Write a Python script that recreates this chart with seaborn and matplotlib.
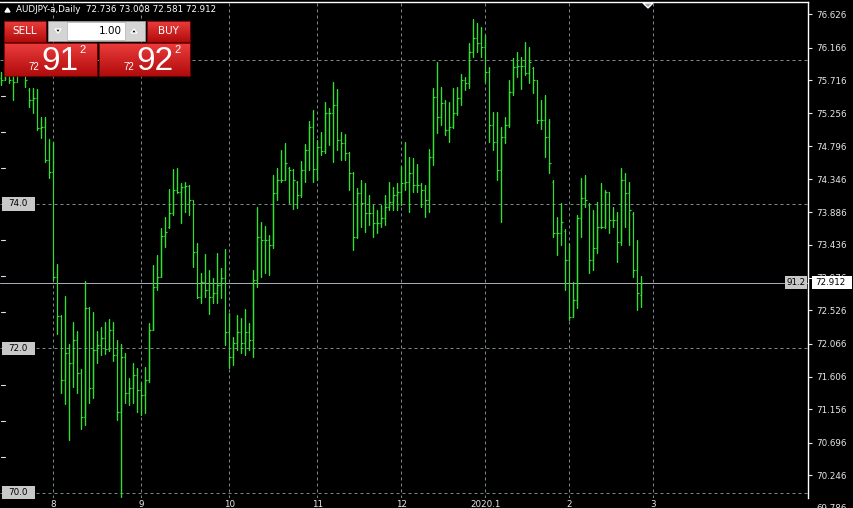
import numpy as np
import pandas as pd
import matplotlib
matplotlib.use("Agg")
import matplotlib.pyplot as plt
import seaborn as sns
from matplotlib.patches import Rectangle, Polygon
from matplotlib.colors import to_rgb

# ---------------- data ----------------
title_text = "AUDJPY-a,Daily  72.736 73.008 72.581 72.912"

opens = [75.75, 75.72, 75.85, 75.72, 75.69, 75.88, 75.92, 75.58, 75.44, 75.47,
         75.05, 75.07, 74.61, 74.44, 72.99, 72.45, 71.56, 71.94, 71.80, 72.12,
         71.66, 71.05, 72.56, 71.45, 71.98, 72.05, 72.15, 71.99, 72.26, 71.91,
         71.12, 71.88, 71.38, 71.45, 71.63, 71.43, 71.36, 71.56, 72.26, 72.85,
         72.99, 73.56, 73.68, 73.88, 74.19, 74.17, 74.24, 74.25, 74.06, 73.34,
         72.71, 72.92, 72.81, 72.71, 72.77, 72.88, 72.98, 72.23, 71.88, 72.08,
         72.23, 72.08, 72.23, 72.12, 72.95, 73.54, 73.50, 73.50, 73.43, 74.15,
         74.33, 74.33, 74.50, 74.47, 74.30, 74.12, 74.47, 74.75, 75.07, 74.48,
         74.79, 74.73, 75.26, 75.26, 75.37, 74.89, 74.84, 74.71, 74.43, 73.54,
         74.15, 74.01, 73.88, 73.88, 73.74, 73.74, 73.81, 73.96, 74.03, 74.12,
         74.17, 74.29, 74.30, 74.43, 74.26, 74.26, 74.19, 74.06, 74.65, 75.48,
         75.20, 75.40, 75.02, 75.07, 75.26, 75.47, 75.72, 75.67, 76.10, 76.30,
         76.23, 76.17, 75.83, 75.09, 74.86, 74.47, 74.93, 75.09, 75.55, 75.90,
         75.91, 75.91, 75.81, 75.88, 75.72, 75.16, 75.16, 74.93, 74.30, 73.60,
         73.60, 73.62, 73.22, 72.44, 72.67, 73.81, 74.08, 73.98, 73.22, 73.39,
         73.68, 73.68, 74.17, 73.78, 73.78, 73.47, 74.33, 74.15, 73.86, 73.09,
         72.736]

highs = [75.83, 75.99, 75.92, 75.85, 75.99, 76.06, 75.92, 75.61, 75.61, 75.59,
         75.20, 75.20, 74.90, 74.86, 73.17, 72.46, 72.73, 72.06, 72.37, 72.24,
         71.72, 72.93, 72.57, 72.51, 72.24, 72.30, 72.37, 72.41, 72.37, 72.12,
         72.06, 71.94, 71.59, 71.80, 71.73, 71.54, 71.74, 72.35, 73.16, 73.29,
         73.67, 73.82, 74.21, 74.48, 74.50, 74.29, 74.30, 74.26, 74.06, 73.46,
         73.05, 73.31, 73.09, 72.98, 73.32, 73.11, 73.38, 72.49, 72.16, 72.46,
         72.42, 72.55, 72.35, 73.09, 73.96, 73.75, 73.70, 73.57, 74.40, 74.50,
         74.75, 74.84, 74.51, 74.48, 74.32, 74.60, 74.83, 75.15, 75.30, 74.89,
         75.00, 75.41, 75.33, 75.69, 75.59, 75.00, 74.97, 74.72, 74.44, 74.22,
         74.33, 74.29, 74.12, 73.99, 73.92, 73.99, 74.12, 74.30, 74.24, 74.29,
         74.53, 74.86, 74.65, 74.64, 74.55, 74.29, 74.26, 74.76, 75.61, 75.97,
         75.62, 75.44, 75.41, 75.61, 75.62, 75.80, 75.76, 76.23, 76.56, 76.51,
         76.45, 76.34, 75.90, 75.27, 75.27, 75.07, 75.20, 75.72, 76.02, 76.10,
         76.03, 76.24, 76.17, 75.90, 75.72, 75.44, 75.51, 75.18, 74.33, 73.82,
         74.01, 73.65, 73.46, 72.92, 73.85, 74.36, 74.40, 74.01, 73.92, 74.03,
         74.29, 74.19, 74.01, 73.96, 73.89, 74.50, 74.43, 74.30, 73.89, 73.50,
         73.008]

lows = [75.65, 75.72, 75.67, 75.44, 75.79, 75.80, 75.62, 75.34, 75.26, 75.02,
        74.91, 74.58, 74.36, 72.95, 72.20, 71.38, 71.23, 70.73, 71.47, 71.38,
        70.89, 70.94, 71.25, 71.31, 71.80, 71.91, 71.92, 71.97, 71.83, 71.01,
        69.94, 71.25, 71.22, 71.25, 71.12, 71.08, 71.11, 71.54, 72.26, 72.81,
        72.99, 73.40, 73.67, 73.85, 74.15, 73.74, 73.89, 73.85, 73.13, 72.70,
        72.63, 72.71, 72.48, 72.63, 72.63, 72.70, 72.05, 71.73, 71.77, 71.98,
        71.94, 71.91, 71.98, 71.88, 72.85, 72.99, 73.05, 73.02, 73.39, 74.06,
        74.30, 74.33, 74.01, 73.93, 73.94, 74.10, 74.30, 74.47, 74.30, 74.33,
        74.68, 74.71, 74.82, 74.58, 74.75, 74.61, 74.61, 74.19, 73.36, 73.53,
        73.68, 73.61, 73.71, 73.54, 73.60, 73.68, 73.71, 73.92, 73.92, 73.92,
        73.99, 74.19, 73.89, 74.17, 74.17, 73.96, 73.82, 73.89, 74.54, 74.98,
        75.09, 74.96, 74.86, 75.05, 75.23, 75.37, 75.58, 75.61, 76.03, 76.10,
        76.03, 75.69, 74.86, 74.75, 74.33, 73.75, 74.84, 75.07, 75.51, 75.76,
        75.59, 75.79, 75.67, 75.54, 75.12, 75.04, 74.65, 74.43, 73.54, 73.29,
        73.43, 72.81, 72.39, 72.44, 72.56, 73.54, 73.96, 73.05, 73.09, 73.32,
        73.67, 73.67, 73.60, 73.68, 73.20, 73.43, 73.68, 73.43, 72.99, 72.53,
        72.581]

closes = [75.72, 75.85, 75.72, 75.69, 75.88, 75.92, 75.72, 75.44, 75.47, 75.05,
          75.07, 74.61, 74.44, 72.99, 72.45, 71.56, 71.94, 71.80, 72.12, 71.66,
          71.05, 72.56, 71.45, 71.98, 72.05, 72.15, 71.99, 72.26, 71.91, 71.12,
          71.88, 71.38, 71.45, 71.63, 71.43, 71.36, 71.56, 72.26, 72.85, 72.99,
          73.56, 73.61, 73.88, 74.19, 74.17, 74.24, 74.25, 74.06, 73.34, 72.71,
          72.92, 72.81, 72.71, 72.77, 72.88, 72.98, 72.23, 71.88, 72.08, 72.23,
          72.08, 72.23, 72.12, 72.95, 73.54, 73.50, 73.50, 73.43, 74.15, 74.33,
          74.33, 74.57, 74.47, 74.33, 74.12, 74.47, 74.75, 75.07, 74.48, 74.79,
          74.73, 75.26, 75.26, 75.37, 74.89, 74.84, 74.71, 74.43, 73.54, 74.15,
          74.01, 73.88, 73.88, 73.74, 73.74, 73.81, 73.96, 74.03, 74.12, 74.17,
          74.29, 74.30, 74.43, 74.26, 74.26, 74.19, 74.06, 74.65, 75.48, 75.20,
          75.40, 75.02, 75.07, 75.26, 75.47, 75.72, 75.67, 76.10, 76.30, 76.23,
          76.17, 75.83, 75.09, 74.86, 74.47, 74.93, 75.09, 75.55, 75.90, 75.91,
          75.91, 75.81, 75.97, 75.72, 75.16, 75.16, 74.93, 74.57, 73.60, 73.60,
          73.75, 73.22, 72.44, 72.67, 73.81, 74.08, 74.06, 73.22, 73.39, 73.68,
          73.68, 74.17, 73.78, 73.78, 73.47, 74.33, 74.15, 73.92, 73.09, 72.77,
          72.912]

month_pos = [13, 35, 57, 79, 100, 121, 142, 163]
month_labels = ["8", "9", "10", "11", "12", "2020.1", "2", "3"]

price_ticks = [76.626, 76.166, 75.716, 75.256, 74.796, 74.346, 73.886, 73.436,
               72.976, 72.526, 72.066, 71.606, 71.156, 70.696, 70.246]
bottom_price_tick = 69.786
grid_levels = [70.0, 72.0, 74.0, 76.0]
level_labels = [74.0, 72.0, 70.0]
left_marks = [70.5, 71.0, 71.5, 72.5, 73.0, 73.5, 74.5, 75.0, 75.5]
last_price = 72.912
last_price_text = "72.912"
spread_text = "91.2"
lot_text = "1.00"
sell_quote = ("72", "91", "2")
buy_quote = ("72", "92", "2")

# ---------------- style ----------------
sns.set_theme(style="dark")
plt.rcParams["font.family"] = ["DejaVu Sans"]

W, H = 854, 508
PLOT_R = 808
fig = plt.figure(figsize=(W / 100, H / 100), dpi=100, facecolor="black")
ax = fig.add_axes([0, 10 / H, PLOT_R / W, 496 / H])
ax.set_facecolor("black")

# OHLC bars as one path per bar: open tick, range, close tick
tick = 0.3
rows = []
for i, (o, h, l, c) in enumerate(zip(opens, highs, lows, closes)):
    pts = [(i - tick, o), (i, o), (i, h), (i, l), (i, c), (i + tick, c)]
    for j, (x, y) in enumerate(pts):
        rows.append({"bar": i, "step": j, "x": x, "y": y})
df = pd.DataFrame(rows)

sns.lineplot(data=df, x="x", y="y", units="bar", estimator=None, sort=False,
             color="#30e030", linewidth=0.85, ax=ax, legend=False,
             solid_capstyle="butt", solid_joinstyle="miter", zorder=3)

grid_color = "#7c848c"
for g in grid_levels:
    ax.axhline(g, color=grid_color, lw=0.72, ls=(0, (3, 3)), zorder=1)
for p in month_pos:
    ax.axvline(p, color=grid_color, lw=0.72, ls=(0, (3, 3)), zorder=1)

ax.axhline(last_price, color="#a2aab4", lw=0.72, zorder=2)

# axes
ax.set_xticks(month_pos)
ax.set_xticklabels(month_labels)
ax.yaxis.tick_right()
ax.set_yticks(price_ticks)
ax.set_yticklabels([f"{v:.3f}" for v in price_ticks])
ax.set_xlim(-0.375, -0.375 + PLOT_R / 4)
ax.set_ylim(74 - (498 - 204) / 72.25, 74 + (204 - 2) / 72.25)
ax.set_xlabel("")
ax.set_ylabel("")
ax.tick_params(axis="y", colors="#e8e8e8", length=3, width=0.8, pad=3,
               labelsize=6.3, right=True, left=False, labelright=True, labelleft=False)
ax.tick_params(axis="x", colors="#e8e8e8", length=0, pad=1.2, labelsize=6.3)
for s in ["left", "bottom"]:
    ax.spines[s].set_visible(False)
for s in ["top", "right"]:
    ax.spines[s].set_visible(True)
    ax.spines[s].set_color("white")
    ax.spines[s].set_linewidth(1.0)

ytr = ax.get_yaxis_transform()
ppx = 1 / PLOT_R          # axes fraction per pixel
pdy = 1 / 72.25           # price per pixel

ax.text(816 * ppx, bottom_price_tick, f"{bottom_price_tick:.3f}", transform=ytr,
        ha="left", va="center", fontsize=6.3, color="#e8e8e8", clip_on=False)

# left small marks
for v in left_marks:
    ax.plot([1 * ppx, 5 * ppx], [v, v], transform=ytr, color="#e0e0e0", lw=0.8,
            clip_on=False, zorder=4)

# level labels
for lv in level_labels:
    ax.add_patch(Rectangle((2 * ppx, lv - 6.5 * pdy), 33 * ppx, 13 * pdy, transform=ytr,
                           fc="#c8c8c8", ec="none", zorder=5, clip_on=False))
    ax.text(18 * ppx, lv, f"{lv:.1f}", transform=ytr, ha="center", va="center",
            fontsize=6.3, color="black", zorder=6)

# spread box and price box
ax.add_patch(Rectangle((785 * ppx, last_price - 6.5 * pdy), 22 * ppx, 13 * pdy, transform=ytr,
                       fc="#c8c8c8", ec="none", zorder=5, clip_on=False))
ax.text(796 * ppx, last_price, spread_text, transform=ytr, ha="center", va="center",
        fontsize=6.3, color="black", zorder=6)
ax.add_patch(Rectangle((812 * ppx, last_price - 6.5 * pdy), 40 * ppx, 13 * pdy, transform=ytr,
                       fc="white", ec="none", zorder=5, clip_on=False))
ax.text(815 * ppx, last_price, last_price_text, transform=ytr, ha="left", va="center",
        fontsize=6.3, color="black", zorder=6, clip_on=False)

# ---------------- overlay (trading panel) in pixel coords ----------------
ov = fig.add_axes([0, 0, 1, 1], zorder=10)
ov.patch.set_alpha(0)
ov.axis("off")


def red_button(x, y, w, h):
    top = np.array(to_rgb("#ec3c3c"))
    bot = np.array(to_rgb("#b10c0c"))
    t = np.linspace(0, 1, 32)[:, None, None]
    grad = top * (1 - t) + bot * t
    ov.imshow(grad, extent=(x, x + w, y + h, y), origin="upper", aspect="auto",
              interpolation="bilinear", zorder=2)
    ov.add_patch(Rectangle((x, y), w, h, fc="none", ec="#7a0000", lw=0.6, zorder=3))


red_button(4, 21, 42, 21)
red_button(147, 21, 43, 21)
red_button(4, 43, 93, 33)
red_button(99, 43, 91, 33)

ov.text(25, 31.5, "SELL", ha="center", va="center", fontsize=7.5, color="white", zorder=4)
ov.text(168.5, 31.5, "BUY", ha="center", va="center", fontsize=7.5, color="white", zorder=4)

# lot spinner
ov.add_patch(Rectangle((48, 21), 97, 20, fc="#d4d4d4", ec="#9a9a9a", lw=0.6, zorder=2))
ov.add_patch(Rectangle((67, 22), 58, 18, fc="white", ec="#b0b0b0", lw=0.5, zorder=3))
ov.text(122, 31.5, lot_text, ha="right", va="center", fontsize=7.5, color="black", zorder=4)
ov.add_patch(Polygon([[55, 29], [61, 29], [58, 33]], closed=True, fc="black", zorder=4))
ov.add_patch(Polygon([[131, 33], [137, 33], [134, 29]], closed=True, fc="black", zorder=4))

# big quotes
qfont = ["Liberation Sans", "DejaVu Sans"]
for (small, big, sup), xs, xb, xp in [(sell_quote, 34, 60, 83), (buy_quote, 129, 155, 178)]:
    ov.text(xs, 67, small, ha="center", va="center", fontsize=7, color="white",
            family=qfont, zorder=4)
    ov.text(xb, 61, big, ha="center", va="center", fontsize=24, color="white",
            family=qfont, zorder=4)
    ov.text(xp, 50, sup, ha="center", va="center", fontsize=8, color="white",
            family=qfont, zorder=4)

# title line
ov.add_patch(Polygon([[5, 12], [10, 12], [7.5, 8]], closed=True, fc="white", zorder=4))
ov.text(16, 10, title_text, ha="left", va="center", fontsize=6.3, color="white", zorder=4)

# chart shift marker
ov.add_patch(Polygon([[643, 3], [653, 3], [648, 8]], closed=True, fc="#9aa2ac", zorder=4))

ov.set_xlim(0, W)
ov.set_ylim(H, 0)

fig.savefig("out.png", dpi=100, facecolor="black")
